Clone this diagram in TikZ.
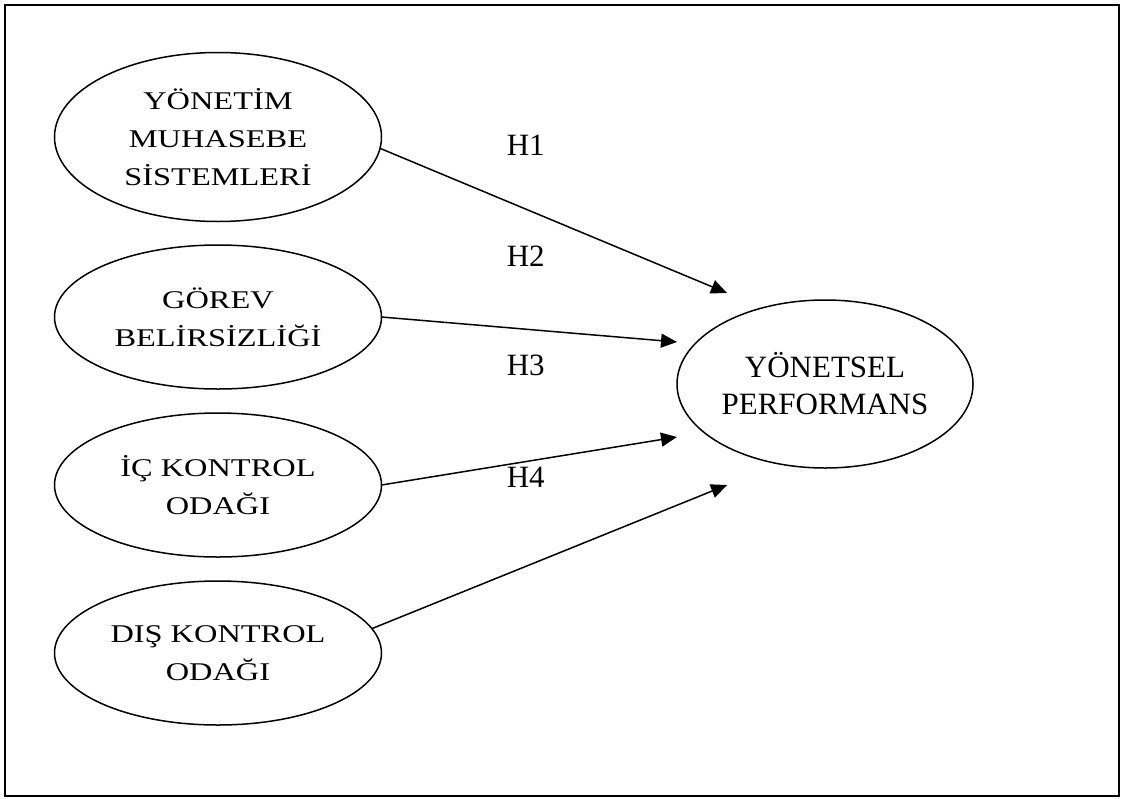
\documentclass[tikz,border=0pt]{standalone}
\usepackage{fontspec}
\setmainfont{Liberation Serif}
\newfontfamily\widefont[FakeStretch=1.27]{Liberation Serif}
\usetikzlibrary{shapes.geometric,arrows.meta}

\begin{document}
\begin{tikzpicture}[x=1pt,y=-1pt,line width=1.5pt,
        kutu/.style={ellipse,draw,inner sep=0pt,outer sep=0pt,align=center,
          minimum width=327pt,minimum height=144pt,font=\widefont\fontsize{25.5}{38}\selectfont},
        ok/.style={-{Triangle[length=16pt,width=14pt]}},
        etiket/.style={anchor=base west,inner sep=0pt,font=\fontsize{31}{38}\selectfont}]
        \useasboundingbox (0,0) rectangle (1124,798);
        \draw (5,5) rectangle (1119,796);

        \node[kutu,minimum height=169pt] (yms) at (218,137) {YÖNETİM\\MUHASEBE\\SİSTEMLERİ};
        \node[kutu] (gorev) at (218,317) {GÖREV\\BELİRSİZLİĞİ};
        \node[kutu] (ic) at (218,485) {İÇ KONTROL\\ODAĞI};
        \node[kutu] (dis) at (218,653) {DIŞ KONTROL\\ODAĞI};
        \node[ellipse,draw,inner sep=0pt,outer sep=0pt,align=center,minimum width=296pt,
          minimum height=168pt,font=\fontsize{31}{37}\selectfont] (perf) at (825,384) {YÖNETSEL\\PERFORMANS};

        \coordinate (t1) at (727,293);
        \coordinate (t2) at (677,342);
        \coordinate (t3) at (677,437);
        \coordinate (t4) at (727,485);

        \draw[ok] (yms.-4)--(t1);
        \draw[ok] (gorev.east)--(t2);
        \draw[ok] (ic.east)--(t3);
        \draw[ok] (dis.9)--(t4);

        \node[etiket] (h1) at (506,155) {H1};
        \node[etiket] (h2) at (506,266) {H2};
        \node[etiket] (h3) at (506,375) {H3};
        \node[etiket] (h4) at (506,487) {H4};
\end{tikzpicture}
\end{document}
